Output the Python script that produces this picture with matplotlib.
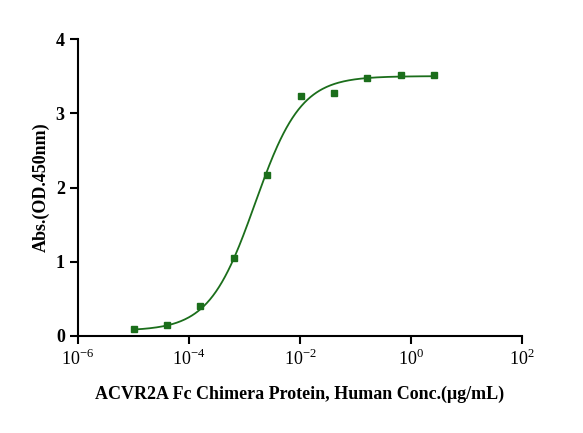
import numpy as np
import matplotlib
matplotlib.use("Agg")
import matplotlib.pyplot as plt

conc = [1e-5, 4e-5, 1.6e-4, 6.4e-4, 2.56e-3, 1.024e-2, 4.096e-2, 0.1638, 0.6554, 2.621]
absv = [0.09, 0.15, 0.41, 1.05, 2.17, 3.23, 3.27, 3.47, 3.52, 3.52]
# 4PL fit parameters (bottom, top, EC50, hill)
bottom, top, ec50, hill = 0.07, 3.50, 1.55e-3, 1.05
color = "#1b6e1b"

plt.rcParams['font.family'] = ['Liberation Serif', 'DejaVu Serif']
plt.rcParams['mathtext.fontset'] = 'custom'
plt.rcParams['mathtext.rm'] = 'Liberation Serif'
fig = plt.figure(figsize=(5.83, 4.33), dpi=100)
ax = fig.add_axes([78/583, (433-336)/433, 444/583, 297/433])
xf = np.logspace(-5, np.log10(2.621), 300)
yf = bottom + (top - bottom) / (1 + (ec50 / xf) ** hill)
ax.plot(xf, yf, color=color, lw=1.3)
ax.plot(conc, absv, 's', color=color, ms=5)
ax.set_xscale('log')
ax.set_xlim(1e-6, 1e2)
ax.set_ylim(0, 4)
ax.set_xticks([1e-6, 1e-4, 1e-2, 1e0, 1e2])
ax.set_xticklabels(['10$^{\\mathrm{-6}}$', '10$^{\\mathrm{-4}}$', '10$^{\\mathrm{-2}}$', '10$^{\\mathrm{0}}$', '10$^{\\mathrm{2}}$'])
ax.xaxis.set_minor_locator(matplotlib.ticker.NullLocator())
ax.set_yticks([0, 1, 2, 3, 4])
for s in ['top', 'right']:
    ax.spines[s].set_visible(False)
for s in ['left', 'bottom']:
    ax.spines[s].set_linewidth(1.5)
ax.tick_params(width=1.5, length=6, labelsize=13)
for t in ax.get_yticklabels():
    t.set_fontweight('bold')
ax.set_xlabel('ACVR2A Fc Chimera Protein, Human Conc.(μg/mL)', fontsize=13, fontweight='bold', labelpad=12)
ax.set_ylabel('Abs.(OD.450nm)', fontsize=13, fontweight='bold')
fig.savefig('out.png', dpi=100)
